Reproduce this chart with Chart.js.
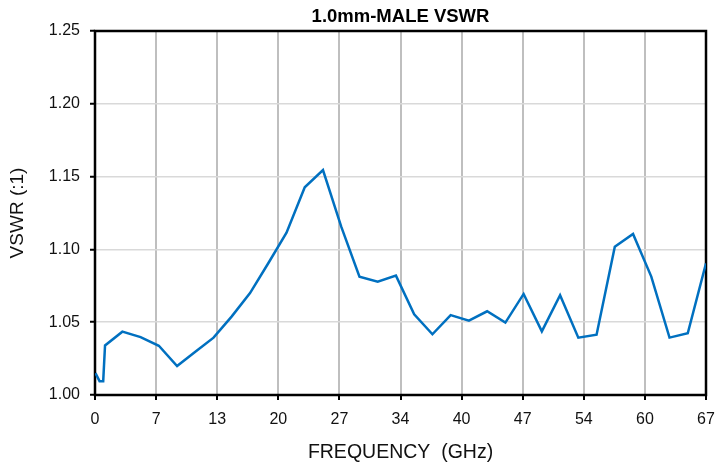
<!DOCTYPE html>
<html lang="en">
<head>
    <meta charset="UTF-8">
    <title>1.0mm-MALE VSWR</title>
    <style>
        body {
            margin: 0;
            padding: 0;
            background-color: #ffffff;
        }
        .chart-box {
            width: 716px;
            height: 466px;
        }
    </style>
</head>
<body>

<div class="chart-box">
    <canvas id="vswrChart"></canvas>
</div>

<script src="https://cdn.jsdelivr.net/npm/chart.js"></script>
<script>
    // frequency (GHz) and VSWR
    const freq = [0.05, 0.5, 0.9, 1.1, 3, 5, 7, 9, 11, 13, 15, 17, 19, 21, 23, 25, 27, 29, 31, 33,
                  35, 37, 39, 41, 43, 45, 47, 49, 51, 53, 55, 57, 59, 61, 63, 65, 67];
    const vswr = [1.015, 1.0095, 1.0095, 1.034, 1.0435, 1.0398, 1.0338, 1.0199, 1.0297, 1.0394,
                  1.054, 1.070, 1.0905, 1.1115, 1.1427, 1.1545, 1.1156, 1.0813, 1.0778, 1.0820,
                  1.0554, 1.0417, 1.0549, 1.0511, 1.0575, 1.0497, 1.0694, 1.0437, 1.0685, 1.0394,
                  1.0414, 1.1019, 1.1106, 1.0813, 1.0394, 1.0424, 1.0904];

    // x axis is split in 10 equal parts, labels are rounded
    const xTickValues = [0, 6.7, 13.4, 20.1, 26.8, 33.5, 40.2, 46.9, 53.6, 60.3, 67];
    const xTickLabels = ['0', '7', '13', '20', '27', '34', '40', '47', '54', '60', '67'];
    const yTickValues = [1.00, 1.05, 1.10, 1.15, 1.20, 1.25];

    const points = freq.map((f, i) => ({ x: f, y: vswr[i] }));

    Chart.defaults.font.family = "'Liberation Sans', Arial, sans-serif";
    Chart.defaults.color = '#111';

    // black frame round the plot area
    const frame = {
        id: 'frame',
        beforeDatasetsDraw(chart) {
            const { ctx, chartArea: a } = chart;
            ctx.save();
            ctx.strokeStyle = '#000';
            ctx.lineWidth = 2.5;
            ctx.strokeRect(a.left, a.top, a.right - a.left, a.bottom - a.top);
            ctx.restore();
        }
    };

    new Chart(document.getElementById('vswrChart'), {
        type: 'line',
        data: {
            datasets: [{
                data: points,
                borderColor: '#0070c0',
                borderWidth: 2.5,
                pointRadius: 0,
                tension: 0,
                fill: false
            }]
        },
        options: {
            responsive: true,
            maintainAspectRatio: false,
            animation: false,
            layout: { padding: 0 },
            plugins: {
                legend: { display: false },
                tooltip: { enabled: false }
            },
            scales: {
                x: {
                    type: 'linear',
                    position: 'bottom',
                    min: 0,
                    max: 67,
                    afterBuildTicks: axis => { axis.ticks = xTickValues.map(v => ({ value: v })); },
                    afterFit: axis => {
                        axis.height = 71;
                        axis.paddingLeft = 0;
                        axis.paddingRight = 0;
                    },
                    ticks: {
                        font: { size: 16 },
                        padding: 10,
                        maxRotation: 0,
                        autoSkip: false,
                        callback: (v, i) => xTickLabels[i]
                    },
                    grid: {
                        color: '#bfbfbf',
                        lineWidth: 2,
                        drawTicks: true,
                        tickLength: 5,
                        tickColor: '#000',
                        tickWidth: 2
                    },
                    border: { display: false },
                    title: {
                        display: true,
                        text: 'FREQUENCY  (GHz)',
                        font: { size: 19.5 },
                        padding: { top: 0, bottom: 2 }
                    }
                },
                x2: {
                    type: 'linear',
                    position: 'top',
                    min: 0,
                    max: 67,
                    afterFit: axis => {
                        axis.height = 31;
                        axis.paddingLeft = 0;
                        axis.paddingRight = 0;
                    },
                    ticks: { display: false },
                    grid: { display: false },
                    border: { display: false },
                    title: {
                        display: true,
                        text: '1.0mm-MALE VSWR',
                        font: { size: 18.5, weight: 'bold' },
                        color: '#000',
                        padding: { top: 6, bottom: 0 }
                    }
                },
                y: {
                    type: 'linear',
                    position: 'left',
                    min: 1.0,
                    max: 1.25,
                    afterBuildTicks: axis => { axis.ticks = yTickValues.map(v => ({ value: v })); },
                    afterFit: axis => {
                        axis.width = 95;
                        axis.paddingTop = 0;
                        axis.paddingBottom = 0;
                    },
                    ticks: {
                        font: { size: 16 },
                        padding: 10,
                        callback: v => v.toFixed(2)
                    },
                    grid: {
                        color: '#d9d9d9',
                        lineWidth: 1.5,
                        drawTicks: true,
                        tickLength: 5,
                        tickColor: '#000',
                        tickWidth: 2
                    },
                    border: { display: false },
                    title: {
                        display: true,
                        text: 'VSWR (:1)',
                        font: { size: 19 },
                        padding: { top: 6, bottom: 0 }
                    }
                },
                y2: {
                    type: 'linear',
                    position: 'right',
                    min: 1.0,
                    max: 1.25,
                    afterFit: axis => {
                        axis.width = 10;
                        axis.paddingTop = 0;
                        axis.paddingBottom = 0;
                    },
                    ticks: { display: false },
                    grid: { display: false },
                    border: { display: false }
                }
            }
        },
        plugins: [frame]
    });
</script>

</body>
</html>
